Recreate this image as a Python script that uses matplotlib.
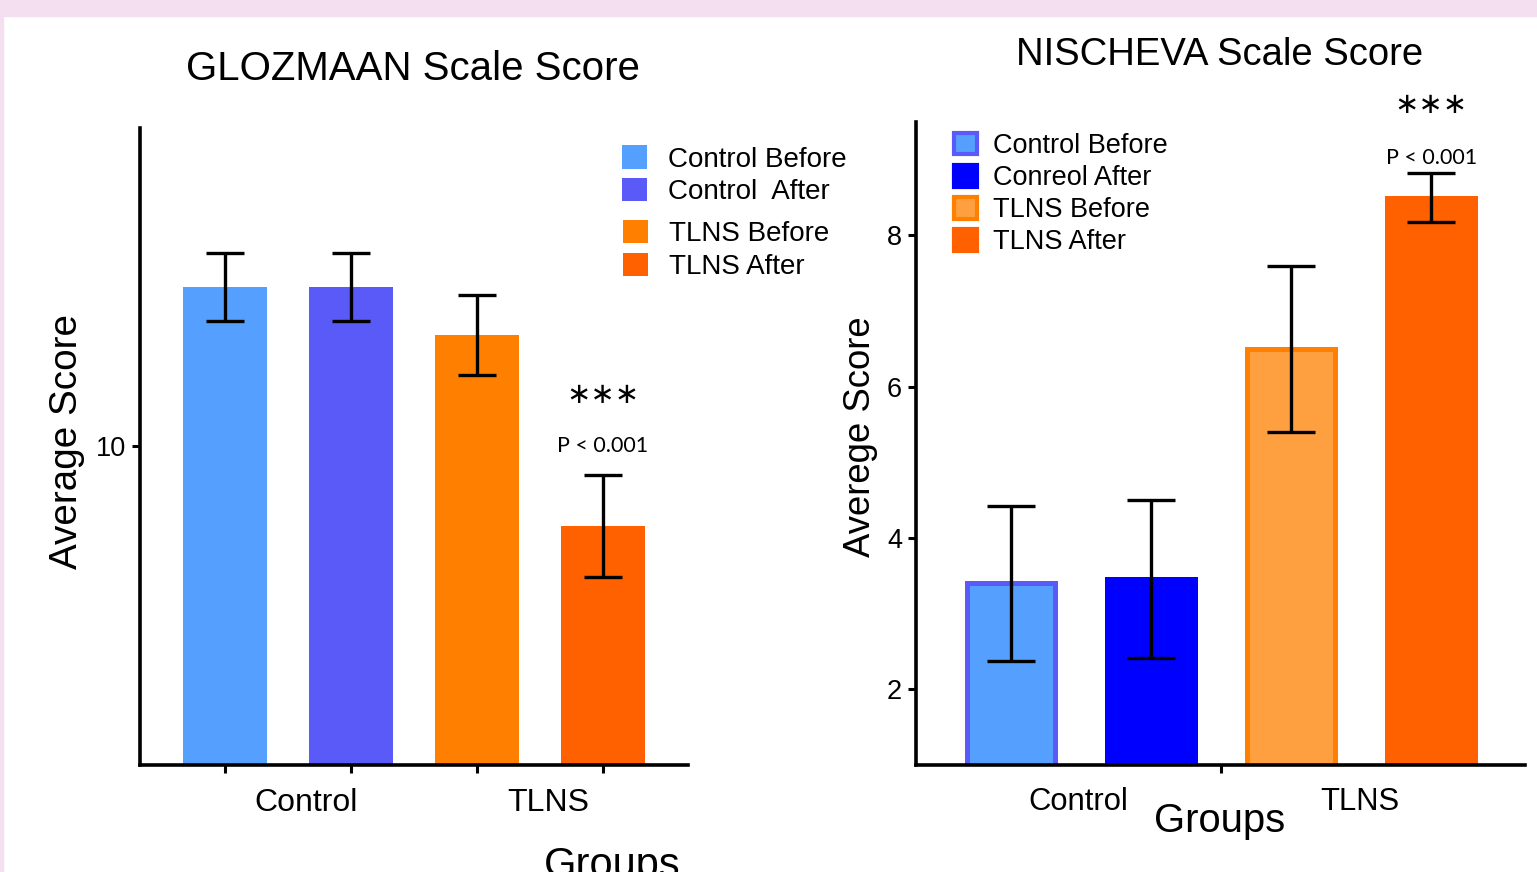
import matplotlib.pyplot as plt
from matplotlib.patches import Rectangle, Patch

plt.rcParams['font.family'] = ['Liberation Sans', 'DejaVu Sans']

# data
groups = ["Control", "TLNS"]
series_left = ["Control Before", "Control  After", "TLNS Before", "TLNS After"]
series_right = ["Control Before", "Conreol After", "TLNS Before", "TLNS After"]

glozmaan_mean = [15.0, 15.0, 13.5, 7.5]
glozmaan_err = [1.07, 1.07, 1.26, 1.6]

nischeva_mean = [3.4, 3.46, 6.5, 8.5]
nischeva_err = [1.02, 1.04, 1.1, 0.32]

left_colors = ["#55a0ff", "#5a5af8", "#ff8000", "#ff6000"]
right_fill = ["#55a0ff", "#0000ff", "#ffa040", "#ff6000"]
right_edge = ["#5a5af8", "#0000ff", "#ff8000", "#ff6000"]

W, H = 1537, 872
fig = plt.figure(figsize=(W / 100, H / 100), dpi=100)
fig.patch.set_facecolor("white")

# pink frame at top / left
pink = "#f3dff0"
fig.patches.append(Rectangle((0, 1 - 16 / H), 1, 16 / H, transform=fig.transFigure,
                             color=pink, zorder=0))
fig.patches.append(Rectangle((0, 0), 2.5 / W, 1, transform=fig.transFigure,
                             color=pink, zorder=0))


def px(x, y):
    return x / W, 1 - y / H


def style_axes(ax):
    for s in ["top", "right"]:
        ax.spines[s].set_visible(False)
    for s in ["left", "bottom"]:
        ax.spines[s].set_linewidth(2.6)
    ax.tick_params(axis="both", width=2.2, length=6, labelsize=19.5, pad=4)


# ---- left: GLOZMAAN ----
ax1 = fig.add_axes([140 / W, 1 - 765 / H, 548 / W, 637 / H])
x1 = list(range(len(series_left)))
ax1.bar(x1, glozmaan_mean, width=0.667, color=left_colors, zorder=2)
ax1.errorbar(x1, glozmaan_mean, yerr=glozmaan_err, fmt="none", ecolor="black",
             elinewidth=2.4, capsize=14, capthick=2.4, zorder=3)
ax1.set_xlim(-0.675, 3.675)
ax1.set_ylim(0, 20)
ax1.set_yticks([10])
ax1.set_xticks(x1)
ax1.set_xticklabels([])
style_axes(ax1)

handles1 = [Patch(facecolor=c, edgecolor="none") for c in left_colors]
leg_kw = dict(loc="upper left", frameon=False, fontsize=20, handlelength=0.9,
              handleheight=0.9, handletextpad=0.75, labelspacing=0.2, borderaxespad=0)
leg_a = ax1.legend(handles1[:2], series_left[:2], bbox_to_anchor=(0.86, 0.99), **leg_kw)
ax1.add_artist(leg_a)
ax1.legend(handles1[2:], series_left[2:], bbox_to_anchor=(0.862, 0.873), **leg_kw)

ax1.text(3, 11.63, "∗∗∗", ha="center", va="center", fontsize=21, family="DejaVu Sans")
ax1.text(3, 10.0, "P < 0.001", ha="center", va="center", fontsize=15.5, family="Lato")

fig.text(*px(413, 69), "GLOZMAAN Scale Score", ha="center", va="center", fontsize=29)
fig.text(*px(67, 441), "Average Score", ha="center", va="center", fontsize=27.8,
         rotation=90)
fig.text(*px(306, 803), groups[0], ha="center", va="center", fontsize=23)
fig.text(*px(548, 803), groups[1], ha="center", va="center", fontsize=23)
fig.text(*px(612, 866), "Groups", ha="center", va="center", fontsize=30)

# ---- right: NISCHEVA ----
ax2 = fig.add_axes([916 / W, 1 - 765 / H, 609 / W, 643 / H])
x2 = list(range(len(series_right)))
ax2.bar(x2, nischeva_mean, width=0.63, color=right_fill, edgecolor=right_edge,
        linewidth=3.6, zorder=2)
ax2.errorbar(x2, nischeva_mean, yerr=nischeva_err, fmt="none", ecolor="black",
             elinewidth=2.4, capsize=17, capthick=2.4, zorder=3)
ax2.set_xlim(-0.68, 3.67)
ax2.set_ylim(1.0, 9.5)
ax2.set_yticks([2, 4, 6, 8])
ax2.set_xticks([1.5])
ax2.set_xticklabels([])
style_axes(ax2)

handles2 = [Patch(facecolor=f, edgecolor=e, linewidth=3)
            for f, e in zip(right_fill, right_edge)]
ax2.legend(handles2, series_right, loc="upper left", bbox_to_anchor=(0.044, 1.0),
           frameon=False, fontsize=19.5, handlelength=0.85, handleheight=0.85,
           handletextpad=0.6, labelspacing=0.22, borderaxespad=0)

ax2.text(3, 9.73, "∗∗∗", ha="center", va="center", fontsize=21, family="DejaVu Sans",
         clip_on=False)
ax2.text(3, 9.03, "P < 0.001", ha="center", va="center", fontsize=15.5, family="Lato")

fig.text(*px(1220, 55), "NISCHEVA Scale Score", ha="center", va="center", fontsize=27.5)
fig.text(*px(860, 437), "Averege Score", ha="center", va="center", fontsize=26.3,
         rotation=90)
fig.text(*px(1078, 802), groups[0], ha="center", va="center", fontsize=22.3)
fig.text(*px(1360, 802), groups[1], ha="center", va="center", fontsize=22.3)
fig.text(*px(1220, 821), "Groups", ha="center", va="center", fontsize=28.8)

fig.savefig("out.png", dpi=100, facecolor=fig.get_facecolor())
